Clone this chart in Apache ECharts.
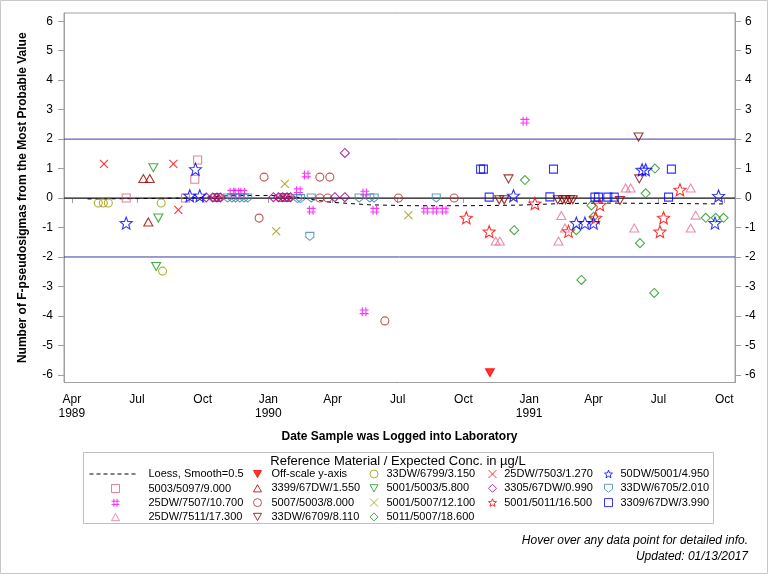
<!DOCTYPE html>
<html><head><meta charset="utf-8">
<script src="https://cdn.jsdelivr.net/npm/echarts@6/dist/echarts.min.js"></script>
<style>html,body{margin:0;padding:0;background:#fff}#c{width:768px;height:576px}</style>
</head><body><div id="c"></div>
<script>
// ---------------- data ----------------
const yTicks = [-6,-5,-4,-3,-2,-1,0,1,2,3,4,5,6];
const xTickDates = ['1989-04-01','1989-07-01','1989-10-01','1990-01-01','1990-04-01','1990-07-01','1990-10-01','1991-01-01','1991-04-01','1991-07-01','1991-10-01'];
const monthNames = ['Jan','Feb','Mar','Apr','May','Jun','Jul','Aug','Sep','Oct','Nov','Dec'];
const xRange = ['1989-03-21','1991-10-16'];
const zeroLine = 0;
const limitLines = [2, -2];

const loess = [['1989-04-23',-0.03],['1989-06-21',-0.02],['1989-09-13',0.0],['1989-11-08',0.08],['1990-01-03',0.09],['1990-02-14',0.02],['1990-03-28',-0.14],['1990-05-23',-0.23],['1990-07-18',-0.26],['1990-10-10',-0.26],['1990-12-19',-0.24],['1991-02-13',-0.19],['1991-04-10',-0.17],['1991-06-19',-0.18],['1991-09-30',-0.2]];
const offScale = [['1990-11-07',-5.93]];
const s33DW_6799 = [['1989-05-08',-0.17],['1989-05-15',-0.17],['1989-05-22',-0.17],['1989-08-04',-0.17],['1989-08-06',-2.48]];
const s25DW_7503 = [['1989-05-16',1.16],['1989-08-21',1.16],['1989-08-28',-0.40]];
const s50DW_5001 = [['1989-06-16',-0.85],['1989-09-13',0.08],['1989-09-21',0.98],['1989-09-27',0.08],['1990-12-10',0.08],['1991-03-08',-0.85],['1991-03-20',-0.85],['1991-04-01',-0.85],['1991-06-08',0.96],['1991-06-13',0.96],['1991-09-18',-0.85],['1991-09-23',0.07]];
const s5003_5097 = [['1989-06-16',0],['1989-09-07',0],['1989-09-20',0.64],['1989-09-24',1.29]];
const s3399_67DW = [['1989-07-10',0.66],['1989-07-17',-0.81],['1989-07-19',0.66]];
const s5001_5003 = [['1989-07-24',1.03],['1989-07-28',-2.32],['1989-07-31',-0.68]];
const s3305_67DW = [['1989-10-06',0.02],['1989-10-15',0.02],['1989-10-21',0.02],['1989-10-26',0.02],['1990-01-08',0.03],['1990-01-15',0.03],['1990-01-21',0.03],['1990-01-27',0.03],['1990-02-01',0.03],['1990-04-04',0.03],['1990-04-18',0.03],['1990-04-18',1.53]];
const s33DW_6705 = [['1989-11-05',0],['1989-11-11',0],['1989-11-16',0],['1989-11-22',0],['1989-11-28',0],['1989-12-03',0],['1990-02-11',-0.02],['1990-02-15',-0.02],['1990-02-28',-1.30],['1990-03-02',0],['1990-05-08',0],['1990-05-23',0],['1990-05-29',0],['1990-08-24',0]];
const s25DW_7507 = [['1989-11-11',0.2],['1989-11-18',0.2],['1989-11-26',0.2],['1990-02-12',0.25],['1990-02-23',0.78],['1990-03-02',-0.41],['1990-05-15',-3.86],['1990-05-16',0.17],['1990-05-30',-0.41],['1990-08-09',-0.41],['1990-08-22',-0.41],['1990-09-04',-0.41],['1990-12-26',2.61]];
const s5007_5003 = [['1989-10-18',0.02],['1989-10-23',0.02],['1989-12-19',-0.68],['1989-12-26',0.71],['1990-01-18',0.02],['1990-01-24',0.02],['1990-01-29',0.02],['1990-03-14',0.71],['1990-03-28',0.71],['1990-03-14',0],['1990-03-25',0],['1990-06-13',-4.17],['1990-07-02',0],['1990-09-18',0]];
const s5001_5007 = [['1990-01-12',-1.12],['1990-01-24',0.48],['1990-07-16',-0.58]];
const s5001_5011 = [['1990-10-05',-0.67],['1990-11-06',-1.14],['1991-01-09',-0.19],['1991-02-25',-1.13],['1991-04-04',-0.67],['1991-04-10',-0.23],['1991-07-03',-1.14],['1991-07-08',-0.67],['1991-07-31',0.28]];
const s3309_67DW = [['1990-10-25',0.98],['1990-10-29',0.98],['1990-11-06',0.03],['1991-01-30',0.04],['1991-02-04',0.98],['1991-04-03',0.03],['1991-04-08',0.03],['1991-04-21',0.03],['1991-04-30',0.03],['1991-07-15',0.03],['1991-07-19',0.98]];
const s25DW_7511 = [['1990-11-15',-1.46],['1990-11-21',-1.46],['1991-02-11',-1.46],['1991-02-15',-0.59],['1991-02-20',-1.02],['1991-05-16',0.34],['1991-05-23',0.34],['1991-05-28',-1.02],['1991-08-15',0.34],['1991-08-22',-0.58],['1991-08-15',-1.02]];
const s33DW_6709 = [['1990-11-20',-0.06],['1990-11-27',-0.06],['1990-12-03',0.65],['1991-02-10',-0.06],['1991-02-17',-0.06],['1991-02-21',-0.06],['1991-02-27',-0.06],['1991-03-03',-0.06],['1991-05-08',-0.08],['1991-06-03',2.07],['1991-06-04',0.65]];
const s5011_5007 = [['1990-12-11',-1.09],['1990-12-26',0.61],['1991-03-08',-1.09],['1991-03-15',-2.78],['1991-03-29',-0.25],['1991-04-01',-0.64],['1991-06-05',-1.53],['1991-06-13',0.16],['1991-06-25',-3.22],['1991-06-26',1.0],['1991-09-05',-0.67],['1991-09-19',-0.67],['1991-09-30',-0.67]];

// ---------------- helpers ----------------
function ts(s){const p=s.split('-').map(Number);return Date.UTC(p[0],p[1]-1,p[2]);}
function conv(arr){return arr.map(d=>[ts(d[0]),d[1]]);}
const FONT = '"Liberation Sans", Arial, sans-serif';
const STAR='path://M5,0 L6.29,3.22 L9.76,3.45 L7.09,5.68 L7.94,9.05 L5,7.2 L2.06,9.05 L2.91,5.68 L0.24,3.45 L3.71,3.22 Z';
const DTRI='path://M0,0 L10,0 L5,9 Z';
const UTRI='path://M5,0 L10,9 L0,9 Z';
const SHIELD='path://M0,0 L10,0 L10,6 L5,10 L0,6 Z';
const HASH='path://M3,0 L3,10 M7,0 L7,10 M0,3 L10,3 M0,7 L10,7';
const XS='path://M0,0 L10,10 M10,0 L0,10';

function sc(name,data,symbol,size,color){
  return {name:name,type:'scatter',data:conv(data),symbol:symbol,symbolSize:size,z:3,
    itemStyle:{color:'rgba(0,0,0,0)',borderColor:color,borderWidth:1.1},emphasis:{disabled:true}};
}
function refSeries(name,v,color){
  return {name:name,type:'line',data:[[ts(xRange[0]),v],[ts(xRange[1]),v]],symbol:'none',z:1,silent:true,
    itemStyle:{color:color},lineStyle:{color:color,width:1,type:'solid'},emphasis:{disabled:true}};
}

const series = [
  refSeries('ref0',zeroLine,'#000000'),
  refSeries('refHi',limitLines[0],'#3a3aa6'),
  refSeries('refLo',limitLines[1],'#3a3aa6'),
  {name:'Loess, Smooth=0.5',type:'line',data:conv(loess),symbol:'none',z:2,silent:true,
   itemStyle:{color:'#000'},lineStyle:{color:'#000',width:1,type:[4,4]}},
  {name:'Off-scale y-axis',type:'scatter',data:conv(offScale),symbol:DTRI,symbolSize:[9,8],z:3,
   itemStyle:{color:'#ff0000',borderColor:'#ff0000',borderWidth:1}},
  sc('5003/5097/9.000',s5003_5097,'rect',8,'#e0607e'),
  sc('25DW/7507/10.700',s25DW_7507,HASH,9,'#ff00ff'),
  sc('25DW/7511/17.300',s25DW_7511,UTRI,[9,8],'#e8709a'),
  sc('3399/67DW/1.550',s3399_67DW,UTRI,[9,8],'#a00000'),
  sc('5007/5003/8.000',s5007_5003,'circle',8,'#b52a2a'),
  sc('33DW/6709/8.110',s33DW_6709,DTRI,[9,8],'#8b0000'),
  sc('33DW/6799/3.150',s33DW_6799,'circle',8,'#9b9b00'),
  sc('5001/5003/5.800',s5001_5003,DTRI,[9,8],'#1a9a1a'),
  sc('5001/5007/12.100',s5001_5007,XS,8,'#9b9b00'),
  sc('5011/5007/18.600',s5011_5007,'diamond',9,'#1a961a'),
  sc('25DW/7503/1.270',s25DW_7503,XS,8,'#ff0000'),
  sc('3305/67DW/0.990',s3305_67DW,'diamond',9,'#960096'),
  sc('5001/5011/16.500',s5001_5011,STAR,12,'#ff0000'),
  sc('50DW/5001/4.950',s50DW_5001,STAR,12,'#0000ff'),
  sc('33DW/6705/2.010',s33DW_6705,SHIELD,8,'#3d86b5'),
  sc('3309/67DW/3.990',s3309_67DW,'rect',8,'#0000ff')
];

function leg(names,left,top,iw,padL,extra){
  const l={data:names,orient:'vertical',left:left,top:top,padding:0,itemGap:0.3,itemWidth:iw,itemHeight:8,
    selectedMode:false,itemStyle:{borderWidth:1},
    textStyle:{fontSize:11,color:'#000',lineHeight:14,fontFamily:FONT,padding:[0,0,0,padL]}};
  return Object.assign(l,extra||{});
}
const legends = [
  leg(['Loess, Smooth=0.5'],89,467,46,8,{itemStyle:{opacity:0,borderWidth:0},lineStyle:{width:1,type:[4,3],color:'#000'}}),
  leg(['5003/5097/9.000','25DW/7507/10.700','25DW/7511/17.300'],111,481.5,8,24),
  leg(['Off-scale y-axis','3399/67DW/1.550','5007/5003/8.000','33DW/6709/8.110'],253,467,8,5),
  leg(['33DW/6799/3.150','5001/5003/5.800','5001/5007/12.100','5011/5007/18.600'],369.5,467,8,3.5),
  leg(['25DW/7503/1.270','3305/67DW/0.990','5001/5011/16.500'],488,467,8,2.7),
  leg(['50DW/5001/4.950','33DW/6705/2.010','3309/67DW/3.990'],604,467,8,3)
];

function yAx(pos){
  const a={type:'value',position:pos,min:-6.26,max:6.28,
    axisLine:{show:true,lineStyle:{color:'#a0a0a0'}},
    axisTick:{show:true,length:6,customValues:yTicks,lineStyle:{color:'#a0a0a0'}},
    axisLabel:{customValues:yTicks,color:'#000',fontSize:12,fontFamily:FONT,margin:pos==='left'?11:10},
    splitLine:{show:false}};
  if(pos==='left'){a.name='Number of F-pseudosigmas from the Most Probable Value';a.nameLocation='middle';a.nameGap=35;
    a.nameTextStyle={fontWeight:'bold',fontSize:12,color:'#000',fontFamily:FONT};}
  return a;
}

const chart = echarts.init(document.getElementById('c'),null,{renderer:'canvas'});
chart.setOption({
  animation:false,
  backgroundColor:'#fff',
  grid:{left:64,right:33,top:13,bottom:193.5,show:true,borderColor:'#a0a0a0',borderWidth:1,containLabel:false,outerBoundsMode:'none'},
  xAxis:{type:'value',min:ts(xRange[0]),max:ts(xRange[1]),
    axisLine:{show:true,lineStyle:{color:'#a0a0a0'}},
    axisTick:{show:true,length:5,customValues:xTickDates.map(ts),lineStyle:{color:'#a0a0a0'}},
    axisLabel:{customValues:xTickDates.map(ts),color:'#000',fontSize:12,lineHeight:14,fontFamily:FONT,margin:10,
      formatter:function(v){const d=new Date(v);const m=d.getUTCMonth();const y=d.getUTCFullYear();
        let s=monthNames[m]; if(m===0||(y===1989&&m===3)) s+='\n'+y; return s;}},
    splitLine:{show:false},
    name:'Date Sample was Logged into Laboratory',nameLocation:'middle',nameGap:48,
    nameTextStyle:{fontWeight:'bold',fontSize:12,color:'#000',fontFamily:FONT}},
  yAxis:[yAx('left'),yAx('right')],
  legend:legends,
  tooltip:{show:false},
  series:series,
  graphic:[
    {type:'rect',silent:true,shape:{x:0.5,y:0.5,width:767,height:573},style:{fill:'none',stroke:'#c8c8c8',lineWidth:1}},
    {type:'rect',silent:true,shape:{x:83.5,y:452.5,width:630,height:71},style:{fill:'none',stroke:'#c0c0c0',lineWidth:1}},
    {type:'text',silent:true,x:398,y:461.5,style:{text:'Reference Material / Expected Conc. in µg/L',fontSize:13,fontFamily:FONT,fill:'#000',align:'center',verticalAlign:'middle'}},
    {type:'text',silent:true,x:748,y:541,style:{text:'Hover over any data point for detailed info.',fontSize:12,fontStyle:'italic',fontFamily:FONT,fill:'#000',align:'right',verticalAlign:'middle'}},
    {type:'text',silent:true,x:748,y:557,style:{text:'Updated: 01/13/2017',fontSize:12,fontStyle:'italic',fontFamily:FONT,fill:'#000',align:'right',verticalAlign:'middle'}}
  ]
});
</script></body></html>
